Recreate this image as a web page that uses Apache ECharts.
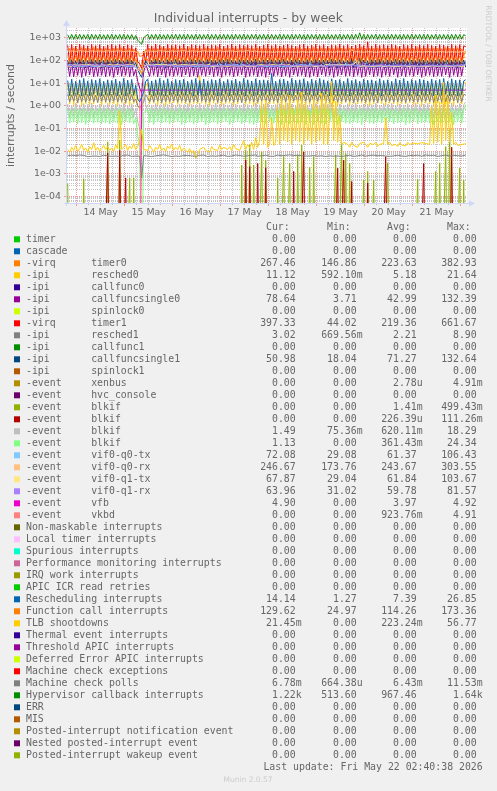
<!DOCTYPE html>
<html>
<head>
<meta charset="utf-8">
<title>Individual interrupts - by week</title>
<script src="https://cdn.jsdelivr.net/npm/echarts@6.0.0/dist/echarts.min.js"></script>
<style>
html,body{margin:0;padding:0;background:#f0f0f0;}
#chart{width:497px;height:791px;}
</style>
</head>
<body>
<div id="chart"></div>
<script>
// ---------------- data ----------------
const firstHour = -4.5; // first hourly sample, in hours after 14 May 00:00
const dayLabels = ['14 May','15 May','16 May','17 May','18 May','19 May','20 May','21 May'];
const yTickValues = [1e-4,1e-3,1e-2,1e-1,1e0,1e1,1e2,1e3];
const yTickLabels = ['1e-04','1e-03','1e-02','1e-01','1e+00','1e+01','1e+02','1e+03'];

const timer0 = [
160,340,155,360,170,320,150,370,165,350,158,330,162,380,152,345,168,335,156,360,
164,325,150,355,170,340,158,365,154,330,166,350,160,320,140,250,150,147,170,300,
162,345,156,360,168,330,152,375,160,340,166,350,155,365,170,325,158,355,164,335,
150,370,162,340,168,350,156,330,160,360,152,345,170,335,158,380,164,325,155,355,
166,340,152,365,160,330,170,350,156,375,162,345,158,335,168,360,150,340,164,355,
156,330,170,360,162,345,152,370,166,335,158,355,160,340,168,365,150,325,162,350,
168,345,155,375,162,330,150,360,170,340,158,355,164,335,152,370,166,345,160,330,
152,360,168,340,156,350,164,383,150,335,170,355,158,345,162,365,154,330,168,350,
160,355,150,340,166,370,158,325,162,360,154,345,170,335,156,375,164,340,152,355,
166,335,158,360,150,345,168,330,162,370,156,350,164,340,152,365,170,325,158,267.46];

const resched0 = [
9,1.2,10,1.1,8,1.3,11,1.05,9.5,1.25,8.5,1.15,10.5,1.2,9,1.35,7.5,1.1,10,1.3,
8.5,1.15,11,1.2,9,1.05,10,1.3,7.5,1.2,9.5,1.1,10.5,1.25,5,1,0.8,0.59,2,8,
10,1.2,8.5,1.3,11,1.1,9,1.25,10.5,1.05,8,1.2,9.5,1.35,10,1.15,7.5,1.3,11,1.2,
9,1.1,10.5,1.25,8,1.2,21.64,1.3,9.5,1.15,10,1.05,8.5,1.3,11,1.2,9,1.1,10,1.25,
8,1.3,9.5,1.1,11,1.2,8.5,1.35,10,1.15,9,1.25,10.5,1.05,7.5,1.2,9.5,1.3,10,1.1,
11,1.2,8,1.25,9.5,1.1,10.5,1.3,9,1.2,8.5,1.15,10,1.35,9.5,1.05,11,1.2,8,1.3,
9,1.15,10,1.3,8.5,1.2,11,1.1,9.5,1.25,7.5,1.2,10.5,1.3,9,1.05,10,1.2,8.5,1.35,
10.5,1.1,9,1.25,11,1.2,8,1.3,9.5,1.15,10,1.05,8.5,1.2,11,1.3,9,1.25,10,1.1,
8.5,1.3,10,1.2,9,1.1,11,1.25,7.5,1.2,9.5,1.35,10.5,1.15,8,1.2,10,1.05,9,1.3,
11,1.2,8.5,1.1,10,1.3,9,1.2,10.5,1.15,8,1.25,9.5,1.1,11,1.3,8.5,1.2,10,11.12];

const callfuncsingle0 = [
75,20,82,19,70,22,88,18,78,21,72,23,85,19,68,20,80,22,74,19,
86,21,71,18,79,23,83,20,69,22,87,19,76,21,40,12,6,3.71,30,70,
81,20,73,22,89,19,77,23,70,18,84,21,75,20,66,22,82,19,78,23,
72,19,86,21,74,18,80,22,68,20,88,23,76,19,83,21,71,18,79,22,
85,22,70,19,81,21,75,23,87,18,69,20,78,22,84,19,73,21,80,18,
77,23,83,20,71,22,89,19,74,21,80,18,86,23,68,20,79,22,75,19,
82,18,72,21,88,19,76,23,70,20,85,22,78,18,81,21,69,23,84,20,
73,21,132,19,80,22,75,18,87,20,71,23,83,19,77,21,89,18,74,22,
79,20,84,23,70,18,86,21,76,19,82,22,72,20,88,23,75,18,81,21,
71,22,78,19,85,21,73,20,80,23,69,18,87,22,77,19,83,21,74,78.64];

const timer1 = [
460,72,500,66,430,78,520,64,470,75,440,68,510,70,450,66,490,76,420,65,
480,73,510,67,450,78,500,69,430,71,490,65,460,74,360,90,70,44,260,75,
500,69,440,74,520,66,470,78,430,67,510,71,460,76,490,64,450,70,520,68,
430,75,500,67,470,78,450,65,520,71,440,76,490,66,460,73,510,69,430,78,
470,67,520,74,440,69,500,78,460,65,490,71,450,75,510,68,430,73,480,66,
520,76,450,67,500,71,440,78,470,65,510,73,460,69,430,75,490,67,520,71,
440,78,470,66,510,74,450,69,500,71,430,76,490,65,460,73,520,68,450,78,
500,67,430,74,470,71,520,66,450,78,661,69,440,73,510,65,460,75,500,71,
450,69,520,78,470,66,430,74,500,71,460,76,510,65,440,73,490,67,450,78,
510,66,460,74,430,71,500,69,470,76,440,65,520,73,450,67,490,71,440,397.33];

const resched1 = [
3.4,1.5,3.1,1.6,3.7,1.4,3.2,1.55,3.5,1.45,3.3,1.65,3.8,1.5,3,1.4,3.6,1.6,3.2,1.5,
3.5,1.45,3.3,1.6,3.7,1.5,3.1,1.55,3.4,1.4,3.6,1.65,3.2,1.5,2,1,0.8,0.67,1.5,3.2,
3.6,1.5,3.2,1.45,3.5,1.6,3.8,1.4,3.3,1.55,3.1,1.5,3.7,1.65,3.4,1.45,3.2,1.6,3.5,1.5,
3.3,1.4,3.7,1.55,3.1,1.5,8.9,1.6,3.4,1.45,3.6,1.5,3.2,1.65,3.5,1.4,3.8,1.55,3.3,1.5,
3.5,1.6,3.2,1.45,3.6,1.5,3.3,1.4,3.7,1.55,3.1,1.6,3.4,1.5,3.8,1.45,3.2,1.65,3.6,1.5,
3.1,1.5,3.5,1.6,3.3,1.4,3.7,1.55,3.2,1.5,3.6,1.45,3.4,1.65,3,1.5,3.5,1.4,3.3,1.6,
3.7,1.45,3.2,1.5,3.5,1.6,3.1,1.55,3.8,1.4,3.3,1.5,3.6,1.65,3.2,1.45,3.4,1.6,3.5,1.5,
3.2,1.55,3.6,1.4,3.3,1.5,3.7,1.6,3.1,1.45,3.5,1.55,3.8,1.5,3.2,1.4,3.6,1.65,3.3,1.5,
3.5,1.6,3.1,1.45,3.7,1.5,3.3,1.55,3.4,1.4,3.6,1.6,3.2,1.5,3.8,1.45,3.1,1.55,3.5,1.6,
3.3,1.5,3.6,1.4,3.2,1.6,3.5,1.45,3.7,1.5,3.1,1.55,3.4,1.65,3.3,1.4,3.6,1.5,3.2,3.02];

const callfuncsingle1 = [
100,50,108,47,96,53,112,49,104,46,98,52,110,48,102,54,106,45,99,51,
107,48,97,53,111,46,103,50,95,52,109,47,101,55,80,40,25,18,60,95,
105,49,99,54,113,47,102,51,96,45,108,53,100,48,111,52,97,46,106,50,
98,53,110,46,103,50,107,48,95,54,112,47,101,52,99,45,109,51,104,49,
111,47,100,52,96,49,108,54,102,46,105,50,98,53,113,48,97,51,107,45,
103,51,109,48,99,53,106,46,112,50,96,54,104,47,110,52,101,49,95,53,
108,46,97,50,111,53,102,48,105,51,99,47,113,54,100,45,107,52,96,49,
101,54,110,47,98,51,132,49,104,53,96,46,109,50,103,48,111,52,97,47,
106,50,99,53,112,45,101,52,108,48,95,51,105,54,98,47,110,49,102,53,
97,48,107,52,103,46,111,50,99,54,106,47,100,51,109,45,96,53,104,50.98];

const blkifA = [
3.8e-4,0,0,0,0,0,0,0,6.2e-4,0,0,0,0,0,0,0,0,0,0,0,
0.026,0,0,0,0,0,0.031,0,0,0,0,6.6e-4,0,6.6e-4,0,0,0,0,0,0,
0,0,0,0,0,0,0,0,0,0,0,0,0,0,0,0,0,0,0,0,
0,0,0,0,0,0,0,0,0,0,0,0,0,0,0,0,0,0,0,0,
0,0,0,0,0,0,0,2.5e-3,0,0.011,0,0.019,0,2.5e-3,0,0,0,9.4e-3,0,4.1e-3,
0,0,0,0,0,6.6e-4,0,0,5.8e-3,0,0,3e-3,0,0,0,7e-3,0,0.019,0,0,
0,2e-3,0,5.8e-3,0,0,0,0,0,0,0,0,0,0,6.9e-3,0,0,0.023,0,8e-3,
0,3e-3,0,0,0,0,0,0,5.4e-4,0,1.3e-3,0,0,5.4e-4,0,0,0,0,0,0,
3.1e-3,0,0,0,0,0,0,0,0,0,0,0,0,0,0,5.9e-4,0,0,0,0,
0,0,0,0,1.3e-3,0,3.1e-3,0,0,0.016,0,0.09,0,0,0,0,1.8e-3,0,5.4e-4,0];

const blkifB = [
0,0,0,0,0,0,0,0,0,0,0,0,0,0,0,0,0,0,0,0,
8.4e-3,0,0,0,0,0,0.011,0,0,6.6e-4,0,0,0,0,0,0,0,0,0,0,
0,0,0,0,0,0,0,0,0,0,0,0,0,0,0,0,0,0,0,0,
0,0,0,0,0,0,0,0,0,0,0,0,0,0,0,0,0,0,0,0,
0,0,0,0,0,0,0,0,0,4.1e-3,0,2.1e-3,0,0,0,2.9e-3,0,0,0,1.9e-3,
0,0,0,0,0,0,0,0,0,0,0,0,0,1.3e-3,0,0,0,0,9.4e-3,0,
0,0,0,0,0,0,0,0,0,0,0,0,0,0,0,1.8e-3,0,0,4.1e-3,0,
0,0,4.7e-4,0,0,0,0,0,0,0,4e-4,0,0,0,0,0,0,0,0,5.8e-3,
0,0,0,0,0,0,0,0,0,0,0,0,0,0,0,0,0,0,2.9e-3,0,
0,0,0,0,0,0,0,0,0,0,0,0,0.015,0,0,0,0,0,0,0];

const blkifC = [
1.2,.32,1.05,.35,1.3,.3,1.1,.36,1.25,.29,1.15,.34,1.35,.31,1.0,.37,1.2,.33,1.1,.3,
1.3,.35,1.05,.31,1.2,.36,1.15,.29,1.35,.33,1.0,.37,1.25,.32,.8,.2,.1,.075,18.29,1.1,
1.2,.34,1.1,.3,1.3,.36,1.05,.32,1.25,.35,1.15,.29,1.35,.33,1.0,.37,1.2,.31,1.1,.34,
1.25,.3,1.15,.36,1.0,.33,1.3,.29,1.1,.35,1.2,.32,1.05,.37,1.35,.31,1.15,.34,1.25,.3,
1.1,.36,1.3,.32,1.2,.29,1.05,.35,1.25,.33,1.15,.37,1.0,.31,1.35,.34,1.1,.3,1.2,.36,
1.3,.33,1.05,.35,1.15,.31,1.25,.36,1.1,.29,1.35,.34,1.2,.32,1.0,.37,1.25,.3,1.15,.35,
1.05,.31,1.2,.34,1.3,.37,1.1,.33,1.25,.3,1.15,.36,1.35,.32,1.0,.35,1.2,.29,1.1,.33,
1.25,.36,1.1,.3,1.35,.33,1.0,.37,1.2,.31,1.2,.35,1.15,.32,1.3,.29,1.05,.34,1.25,.36,
1.15,.32,1.3,.35,1.05,.31,1.2,.36,1.1,.29,1.25,.33,1.0,.37,1.35,.3,1.15,.34,1.2,.32,
1.3,.34,1.1,.31,1.25,.36,1.05,.33,1.2,.3,1.15,.35,1.35,.32,1.0,.37,1.25,.31,1.1,1.49];

const blkifD = [
.7,.17,.62,.19,.78,.16,.66,.18,.74,.15,.6,.2,.72,.17,.68,.19,.8,.16,.64,.18,
.75,.16,.63,.19,.7,.17,.77,.15,.61,.2,.73,.18,.67,.16,.3,.05,.02,0,.5,.6,
.68,.18,.76,.15,.63,.2,.71,.17,.79,.19,.65,.16,.73,.18,.6,.2,.77,.15,.69,.17,
.62,.19,.74,.16,.8,.18,.66,.2,.7,.15,.78,.17,.61,.19,.75,.16,.67,.18,.72,.2,
.79,.15,.64,.18,.71,.2,.76,.16,.62,.19,.7,.17,.8,.15,.65,.18,.73,.2,.68,.16,
.66,.2,.77,.17,.6,.19,.74,.15,.69,.18,.63,.16,.75,.2,.71,.17,.78,.19,.64,.15,
.73,.18,.67,.15,.79,.2,.62,.17,.76,.16,.7,.19,.64,.18,.8,.15,.68,.2,.74,.17,
.61,.16,.72,.19,.65,.18,.78,.15,.7,.2,.63,.17,.76,.16,.69,.19,.74,.18,.66,.15,
.77,.2,.64,.16,.73,.18,.6,.19,.79,.15,.67,.17,.71,.2,.75,.16,.62,.18,.7,.19,
.68,.17,.8,.15,.66,.2,.72,.18,.63,.16,.77,.19,.7,.15,.65,.2,.74,.17,.69,1.13];

const vifQ0tx = [
62,55,66,52,60,58,68,54,63,57,59,61,65,53,61,56,67,55,60,58,
64,54,61,57,66,53,59,60,63,55,67,52,62,56,50,40,33,29,48,58,
65,56,60,54,68,57,62,53,66,59,61,55,64,52,60,58,67,54,63,57,
59,61,66,53,62,56,68,55,60,58,65,52,63,57,61,54,67,56,59,60,
64,53,61,58,66,55,60,57,68,52,62,59,65,54,63,56,59,61,67,53,
61,57,65,54,60,59,66,52,63,56,68,55,62,58,59,53,66,57,64,54,
60,58,67,53,62,56,65,59,61,54,68,57,63,52,66,55,60,59,64,56,
66,54,61,57,106,53,63,59,60,55,67,52,62,58,65,54,61,57,68,53,
59,60,64,55,67,53,61,58,66,56,60,54,63,59,68,52,62,57,65,55,
63,56,60,59,66,54,62,57,68,53,61,58,65,55,59,60,67,54,63,72.08];

const vifQ0rx = [
255,238,262,232,250,241,268,229,258,236,247,243,265,231,253,239,260,227,249,244,
263,235,251,240,257,230,266,237,246,242,259,233,252,228,240,210,190,174,225,248,
261,236,254,242,248,230,267,238,256,233,245,240,263,229,251,244,258,235,270,232,
249,241,262,228,255,237,247,243,264,231,253,239,259,226,250,245,266,234,248,240,
257,233,263,238,246,242,260,230,254,236,268,229,251,244,258,237,249,241,265,232,
252,239,259,227,266,243,248,235,261,240,255,231,247,238,263,229,256,242,250,236,
264,230,253,241,258,237,246,244,267,232,251,239,260,228,254,243,249,236,262,240,
255,234,303,239,250,242,263,230,257,237,248,241,265,233,252,227,259,244,246,238,
261,235,249,240,256,231,268,237,253,243,247,229,262,236,258,241,251,232,264,239,
250,244,259,230,255,238,247,242,266,233,252,236,260,240,248,231,257,243,254,246.67];

const vifQ1tx = [
58,63,54,67,57,61,53,66,59,62,55,68,56,60,58,64,52,65,57,61,
55,66,58,62,53,67,56,60,59,64,54,68,57,61,48,38,32,29,45,62,
56,65,59,61,53,68,57,63,55,66,58,60,54,67,56,62,59,64,53,66,
58,61,55,67,57,63,54,65,59,60,56,68,53,62,58,66,55,61,57,64,
54,66,58,62,56,68,53,61,59,64,55,60,57,67,54,63,58,65,56,61,
59,63,55,66,57,60,54,68,58,62,56,65,53,61,59,67,55,63,57,60,
56,67,58,61,54,64,59,62,55,68,57,60,53,66,58,63,56,65,54,61,
57,62,55,66,59,104,53,63,58,67,56,61,54,65,57,60,59,68,55,62,
58,64,54,60,57,67,55,62,59,65,53,61,58,68,56,63,54,66,57,60,
55,65,58,62,56,68,54,61,59,63,57,66,53,60,58,64,56,67,55,67.87];

const vifQ1rx = [
60,57,63,55,61,58,64,56,59,62,57,60,65,55,61,58,62,56,64,59,
58,61,55,63,60,57,62,59,64,56,61,58,60,55,50,42,35,31,50,60,
62,57,60,64,56,61,58,63,55,60,62,57,65,59,56,61,58,64,57,60,
59,63,56,60,62,58,64,55,61,59,57,62,60,56,63,58,55,61,59,64,
61,56,63,59,57,62,55,60,64,58,61,56,59,63,57,60,62,55,58,61,
57,62,59,56,63,60,58,64,55,61,60,57,62,59,56,63,58,60,61,57,
63,58,60,62,56,59,64,57,61,55,62,60,58,63,57,61,59,56,64,60,
58,61,57,63,60,56,62,59,81,58,61,57,63,60,55,62,59,64,57,61,
60,57,63,59,56,62,58,61,64,56,60,63,57,59,62,55,61,58,63,60,
59,62,56,60,63,57,61,58,55,64,60,59,62,56,58,61,57,63,60,63.96];

const vfb = [
0,0,0,0,0,0,0,0,0,0,0,0,0,0,0,0,0,0,0,0,
0,0,0,0,0,0,0,0,0,0,0,0,0,0,0,0,0,4.9,4.92,4.9,
4.9,4.9,4.9,4.9,4.9,4.9,4.9,4.9,4.9,4.9,4.9,4.9,4.9,4.9,4.9,4.9,4.9,4.9,4.9,4.9,
4.9,4.9,4.9,4.9,4.9,4.9,4.9,4.9,4.9,4.9,4.9,4.9,4.9,4.9,4.9,4.9,4.9,4.9,4.9,4.9,
4.9,4.9,4.9,4.9,4.9,4.9,4.9,4.9,4.9,4.9,4.9,4.9,4.9,4.9,4.9,4.9,4.9,4.9,4.9,4.9,
4.9,4.9,4.9,4.9,4.9,4.9,4.9,4.9,4.9,4.9,4.9,4.9,4.9,4.9,4.9,4.9,4.9,4.9,4.9,4.9,
4.9,4.9,4.9,4.9,4.9,4.9,4.9,4.9,4.9,4.9,4.9,4.9,4.9,4.9,4.9,4.9,4.9,4.9,4.9,4.9,
4.9,4.9,4.9,4.9,4.9,4.9,4.9,4.9,4.9,4.9,4.9,4.9,4.9,4.9,4.9,4.9,4.9,4.9,4.9,4.9,
4.9,4.9,4.9,4.9,4.9,4.9,4.9,4.9,4.9,4.9,4.9,4.9,4.9,4.9,4.9,4.9,4.9,4.9,4.9,4.9,
4.9,4.9,4.9,4.9,4.9,4.9,4.9,4.9,4.9,4.9,4.9,4.9,4.9,4.9,4.9,4.9,4.9,4.9,4.9,4.9];

const vkbd = [
4.91,4.91,4.91,4.91,4.91,4.91,4.91,4.91,4.91,4.91,4.91,4.91,4.91,4.91,4.91,4.91,4.91,4.91,4.91,4.91,
4.91,4.91,4.91,4.91,4.91,4.91,4.91,4.91,4.91,4.91,4.91,4.91,4.91,4.91,4.91,4.91,4.91,0,0,0,
0,0,0,0,0,0,0,0,0,0,0,0,0,0,0,0,0,0,0,0,
0,0,0,0,0,0,0,0,0,0,0,0,0,0,0,0,0,0,0,0,
0,0,0,0,0,0,0,0,0,0,0,0,0,0,0,0,0,0,0,0,
0,0,0,0,0,0,0,0,0,0,0,0,0,0,0,0,0,0,0,0,
0,0,0,0,0,0,0,0,0,0,0,0,0,0,0,0,0,0,0,0,
0,0,0,0,0,0,0,0,0,0,0,0,0,0,0,0,0,0,0,0,
0,0,0,0,0,0,0,0,0,0,0,0,0,0,0,0,0,0,0,0,
0,0,0,0,0,0,0,0,0,0,0,0,0,0,0,0,0,0,0,0];

const rescheduling = [
13,2.8,15,2.9,12,3.1,14,2.7,16,3,12.5,2.8,14.5,3.2,13.5,2.9,15.5,2.7,12,3,
14,2.9,13,3.1,15,2.8,12,3,16,2.7,13.5,3.2,14.5,2.9,8,2,1.5,1.27,4,12,
15,3,12.5,2.8,14,3.1,16,2.9,13,2.7,15.5,3,12,3.2,14.5,2.8,13.5,3.1,15,2.9,
12,3.2,14,2.7,16,3,13,2.9,15,2.8,12.5,3.1,14.5,3,13.5,2.7,15.5,2.9,12,3.2,
14.5,2.8,13,3,15,2.9,12,3.1,16,2.7,14,3.2,12.5,2.8,15.5,3,13.5,2.9,14,3.1,
13,2.9,26.85,3.1,12,2.8,14.5,3,15,3.2,12.5,2.7,16,2.9,13.5,3.1,14,2.8,15.5,3,
12,3.1,15,2.8,13,3,16,2.9,14,3.2,12.5,2.7,15.5,3,13.5,2.8,14.5,3.1,12,2.9,
16,2.7,13,3.1,14.5,2.9,12,3,15,2.8,13.5,3.2,14,2.9,12.5,3,15.5,2.7,13,3.1,
14,3,12,2.8,15.5,3.1,13.5,2.9,16,3,12.5,2.8,14.5,3.2,13,2.7,15,3,14,2.9,
12.5,3.1,15,2.8,13,3,14.5,2.9,16,3.2,12,2.8,15.5,3,13.5,2.7,14,3.1,12.5,14.14];

const functionCall = [
150,82,145,86,158,79,148,84,152,80,160,88,146,83,155,81,149,87,157,79,
151,84,147,80,159,86,150,82,154,85,148,81,156,83,120,60,40,25,90,140,
152,82,158,87,146,81,155,84,149,80,161,86,150,83,157,79,148,88,153,81,
160,85,147,82,154,80,150,87,158,83,145,84,156,81,151,86,149,79,159,84,
148,81,155,88,151,82,162,80,146,85,157,83,150,87,153,79,160,84,147,82,
156,86,149,80,158,84,152,81,145,87,155,83,161,82,148,85,154,79,150,88,
153,83,160,81,147,86,156,84,150,80,158,87,146,82,155,85,149,81,162,84,
145,87,157,82,151,80,159,85,148,84,173,81,150,88,146,83,156,79,152,86,
158,80,149,85,155,82,147,87,160,83,152,81,157,84,145,86,154,80,150,83,
161,84,148,81,156,87,151,82,146,85,159,80,153,83,149,86,155,81,147,129.62];

const tlbShootdowns = [
.012,.009,.015,.011,.018,.010,.013,.02,.011,.014,.009,.016,.012,.024,.011,.015,.01,.013,.018,.012,
.016,.011,.014,.01,.019,.013,.6,.012,.015,.02,.011,.017,.013,.022,.012,.016,.03,.09,.012,.014,
.011,.018,.013,.009,.015,.012,.02,.011,.014,.01,.017,.013,.021,.011,.015,.012,.018,.01,.014,.012,
.009,.013,.008,.011,.005,.007,.012,.01,.015,.011,.013,.009,.016,.012,.014,.011,.019,.012,.015,.013,
.012,.016,.011,.02,.013,.015,.011,.018,.03,.012,.02,.014,.025,.012,.04,.015,.03,1.4,.02,1.8,
.015,.02,.3,.018,.025,.9,.02,2.5,.03,1.2,.025,3,.02,.8,.03,2,.025,4,.02,1.5,
.03,.6,.02,2.2,.025,1,.03,3.5,.02,2.8,.02,.5,12,.03,1.6,.025,.4,.02,.025,.03,
.02,.015,.025,.018,.02,.015,.022,.018,.025,.02,.015,.022,.018,.02,.025,.016,.02,.018,.022,.3,
.02,.025,.018,.022,.02,.016,.024,.019,.021,.017,.025,.02,.018,.023,.019,.021,.018,.024,.02,.022,
.025,.02,.9,.022,3,.025,1.5,.02,11,.03,2.2,.025,.5,.02,.025,.018,.022,.02,.024,.02145];

const machineCheckPolls = [
.0064,.0061,.0067,.0059,.0065,.0062,.0068,.006,.0066,.0063,.0058,.0065,.0061,.0069,.0062,.0066,.0059,.0064,.0067,.0061,
.0063,.0068,.006,.0065,.0062,.0067,.0059,.0064,.0066,.0061,.0068,.0063,.006,.0066,.0062,.0058,.0061,.00066,.0064,.0067,
.0062,.0065,.0059,.0068,.0063,.006,.0066,.0062,.0069,.0061,.0064,.0067,.0059,.0065,.0062,.0068,.006,.0063,.0066,.0061,
.0065,.0058,.0063,.0067,.006,.0064,.0066,.0061,.0068,.0062,.0059,.0065,.0063,.0069,.0061,.0066,.0064,.006,.0067,.0062,
.006,.0066,.0062,.0064,.0068,.0059,.0065,.0063,.0061,.0067,.0064,.006,.0066,.0062,.0068,.0061,.0065,.0063,.0059,.0067,
.0063,.0061,.0067,.006,.0065,.0068,.0062,.0064,.0059,.0066,.0063,.0069,.0061,.0065,.0062,.0067,.006,.0064,.0066,.0062,
.0066,.0062,.006,.0065,.0063,.0061,.0068,.0064,.0062,.0059,.0066,.0063,.0067,.0061,.0064,.0062,.0069,.006,.0065,.0063,
.0061,.0067,.0064,.006,.0066,.0063,.0062,.0068,.0065,.0061,.0059,.0066,.0063,.0067,.0062,.0064,.006,.0065,.0068,.0062,
.0064,.006,.0066,.0063,.0061,.0067,.0065,.0062,.0068,.006,.0063,.0066,.0059,.0064,.0062,.0067,.0065,.0061,.0063,.0068,
.0062,.0065,.0061,.0067,.0063,.006,.0066,.0064,.0062,.0068,.0065,.0061,.0063,.0066,.0059,.0064,.0067,.0062,.0065,.00678];

const hypervisorCallback = [
1350,860,1400,840,1380,870,1420,850,1360,880,1390,830,1410,860,1370,850,1400,870,1350,840,
1380,860,1410,850,1360,870,1390,840,1400,860,1370,850,1380,830,1250,780,650,514,1000,860,
1400,850,1380,860,1410,840,1390,870,1360,850,1400,860,1370,880,1420,840,1390,860,1380,850,
1410,870,1360,840,1400,860,1390,850,1370,880,1420,850,1380,860,1400,840,1360,870,1410,850,
1390,860,1370,850,1400,870,1380,840,1420,860,1360,850,1390,880,1400,850,1370,860,1410,840,
1380,870,1400,850,1360,860,1420,840,1390,870,1370,850,1400,860,1380,880,1410,850,1360,840,
1400,860,1390,870,1370,850,1410,840,1380,860,1400,870,1360,850,1390,860,1420,840,1370,880,
1400,850,1380,860,1410,870,1640,840,1390,850,1400,860,1370,880,1420,850,1380,860,1400,840,
1370,870,1410,850,1390,860,1360,840,1400,870,1380,850,1420,860,1370,880,1400,850,1390,860,
1410,840,1360,870,1400,850,1380,860,1390,870,1370,850,1410,840,1400,860,1380,870,1360,1220];

// legend table
const legendLabels = [
['timer'],['cascade'],['-virq','timer0'],['-ipi','resched0'],['-ipi','callfunc0'],
['-ipi','callfuncsingle0'],['-ipi','spinlock0'],['-virq','timer1'],['-ipi','resched1'],['-ipi','callfunc1'],
['-ipi','callfuncsingle1'],['-ipi','spinlock1'],['-event','xenbus'],['-event','hvc_console'],['-event','blkif'],
['-event','blkif'],['-event','blkif'],['-event','blkif'],['-event','vif0-q0-tx'],['-event','vif0-q0-rx'],
['-event','vif0-q1-tx'],['-event','vif0-q1-rx'],['-event','vfb'],['-event','vkbd'],['Non-maskable interrupts'],
['Local timer interrupts'],['Spurious interrupts'],['Performance monitoring interrupts'],['IRQ work interrupts'],['APIC ICR read retries'],
['Rescheduling interrupts'],['Function call interrupts'],['TLB shootdowns'],['Thermal event interrupts'],['Threshold APIC interrupts'],
['Deferred Error APIC interrupts'],['Machine check exceptions'],['Machine check polls'],['Hypervisor callback interrupts'],['ERR'],
['MIS'],['Posted-interrupt notification event'],['Nested posted-interrupt event'],['Posted-interrupt wakeup event']];
const statCur = ['0.00','0.00','267.46','11.12','0.00','78.64','0.00','397.33','3.02','0.00',
'50.98','0.00','0.00','0.00','0.00','0.00','1.49','1.13','72.08','246.67',
'67.87','63.96','4.90','0.00','0.00','0.00','0.00','0.00','0.00','0.00',
'14.14','129.62','21.45m','0.00','0.00','0.00','0.00','6.78m','1.22k','0.00',
'0.00','0.00','0.00','0.00'];
const statMin = ['0.00','0.00','146.86','592.10m','0.00','3.71','0.00','44.02','669.56m','0.00',
'18.04','0.00','0.00','0.00','0.00','0.00','75.36m','0.00','29.08','173.76',
'29.04','31.02','0.00','0.00','0.00','0.00','0.00','0.00','0.00','0.00',
'1.27','24.97','0.00','0.00','0.00','0.00','0.00','664.38u','513.60','0.00',
'0.00','0.00','0.00','0.00'];
const statAvg = ['0.00','0.00','223.63','5.18','0.00','42.99','0.00','219.36','2.21','0.00',
'71.27','0.00','2.78u','0.00','1.41m','226.39u','620.11m','361.43m','61.37','243.67',
'61.84','59.78','3.97','923.76m','0.00','0.00','0.00','0.00','0.00','0.00',
'7.39','114.26','223.24m','0.00','0.00','0.00','0.00','6.43m','967.46','0.00',
'0.00','0.00','0.00','0.00'];
const statMax = ['0.00','0.00','382.93','21.64','0.00','132.39','0.00','661.67','8.90','0.00',
'132.64','0.00','4.91m','0.00','499.43m','111.26m','18.29','24.34','106.43','303.55',
'103.67','81.57','4.92','4.91','0.00','0.00','0.00','0.00','0.00','0.00',
'26.85','173.36','56.77','0.00','0.00','0.00','0.00','11.53m','1.64k','0.00',
'0.00','0.00','0.00','0.00'];
const statHeaders = ['Cur:','Min:','Avg:','Max:'];
const titleText = 'Individual interrupts - by week';
const yAxisTitle = 'interrupts / second';
const lastUpdate = 'Last update: Fri May 22 02:40:38 2026';
const footerText = 'Munin 2.0.57';
const watermark = 'RRDTOOL / TOBI OETIKER';

// series drawn on the plot, keyed by legend row (drawing order = legend order)
const plotted = [
  [2, timer0], [3, resched0], [5, callfuncsingle0], [7, timer1], [8, resched1],
  [10, callfuncsingle1], [14, blkifA], [15, blkifB], [16, blkifC], [17, blkifD],
  [18, vifQ0tx], [19, vifQ0rx], [20, vifQ1tx], [21, vifQ1rx], [22, vfb], [23, vkbd],
  [30, rescheduling], [31, functionCall], [32, tlbShootdowns], [37, machineCheckPolls],
  [38, hypervisorCallback]
];

// ---------------- style ----------------
const palette = ['#00CC00','#0066B3','#FF8000','#FFCC00','#330099','#990099','#CCFF00','#FF0000','#808080',
'#008F00','#00487D','#B35A00','#B38F00','#6B006B','#8FB300','#B30000','#BEBEBE','#80FF80','#80C9FF',
'#FFC080','#FFE680','#AA80FF','#EE00CC','#FF8080','#666600','#FFBFFF','#00FFCC','#CC6699','#999900'];
const xMin = -4.85, xMax = 195.15, yMin = 5.28e-5, yMax = 2673;
const SANS = '"DejaVu Sans", sans-serif';
const MONO = '"DejaVu Sans Mono", monospace';
const FONT_COLOR = '#666666';
const AXIS_COLOR = '#CFD6F8';
const MGRID = '#f09a9a';
const GRID = '#c4c4c4';

const chart = echarts.init(document.getElementById('chart'), null, {renderer: 'canvas', width: 497, height: 791});
chart.setOption({
  backgroundColor: '#f0f0f0',
  animation: false,
  grid: {left: 67, top: 28, width: 400, height: 175, show: true, backgroundColor: '#ffffff', borderWidth: 0},
  xAxis: {type: 'value', min: xMin, max: xMax, show: false},
  yAxis: {type: 'log', logBase: 10, min: yMin, max: yMax, show: false},
  series: plotted.map(([k, arr]) => ({
    type: 'line',
    name: legendLabels[k].join(' '),
    data: arr.map((v, i) => [firstHour + i, v > 0 ? v : 1e-9]),
    symbol: 'none', showSymbol: false, silent: true, clip: true, animation: false, z: 2,
    lineStyle: {width: 1, color: palette[k % 29]},
    itemStyle: {color: palette[k % 29]}
  }))
});

const P = (x, y) => chart.convertToPixel({gridIndex: 0}, [x, y]);
const L = P(xMin, 1)[0], R = P(xMax, 1)[0];
const T = P(0, yMax)[1], B = P(0, yMin)[1];
const snap = v => Math.floor(v) + 0.5;
const els = [];
function txt(x, y, s, font, fill, align, extra) {
  return Object.assign({type: 'text', silent: true, z: 20, x: x, y: y,
    style: {x: 0, y: 0, text: s, font: font, fill: fill, align: align || 'left', textAlign: align || 'left',
      verticalAlign: 'middle', textVerticalAlign: 'middle'}}, extra || {});
}
function seg(x1, y1, x2, y2, color, dash, z) {
  return {type: 'line', silent: true, z: z, shape: {x1: x1, y1: y1, x2: x2, y2: y2},
    style: {stroke: color, lineWidth: 1, lineDash: dash || null}};
}

// horizontal grid (log minor, then decades)
for (let e = -5; e <= 3; e++) {
  for (let k = 2; k <= 9; k++) {
    const v = Number(k + 'e' + e);
    if (v <= yMin || v >= yMax) continue;
    const y = snap(P(0, v)[1]);
    els.push(seg(L, y, R, y, GRID, [1, 1], 1));
  }
}
yTickValues.forEach((v, i) => {
  const y = snap(P(0, v)[1]);
  els.push(seg(L, y, R, y, MGRID, [1, 1], 1));
  els.push(seg(L - 3, y, L, y, MGRID, null, 1));
  els.push(txt(61, y, yTickLabels[i], '9.4px ' + SANS, FONT_COLOR, 'right'));
});
// vertical grid: every 6 h, day boundaries stronger
for (let h = 0; h <= xMax; h += 6) {
  if (h < xMin) continue;
  const x = snap(P(h, 1)[0]);
  const major = h % 24 === 0;
  els.push(seg(x, T, x, B, major ? MGRID : GRID, [1, 1], 1));
  els.push(seg(x, B, x, B + (major ? 3 : 2), major ? MGRID : GRID, null, 1));
}
dayLabels.forEach((d, i) => {
  const x = P(12 + 24 * i, 1)[0];
  els.push(txt(x, 212.5, d, '9.4px ' + SANS, FONT_COLOR, 'center'));
});
// axes with arrows
els.push(seg(L - 3, snap(B), R + 3, snap(B), AXIS_COLOR, null, 15));
els.push({type: 'polygon', silent: true, z: 15, shape: {points: [[R + 2, B - 2.5], [R + 8, B + 0.5], [R + 2, B + 3.5]]}, style: {fill: AXIS_COLOR}});
els.push(seg(snap(L - 1), B + 3, snap(L - 1), T - 3, AXIS_COLOR, null, 15));
els.push({type: 'polygon', silent: true, z: 15, shape: {points: [[L - 4, T - 2], [L - 0.5, T - 8], [L + 3, T - 2]]}, style: {fill: AXIS_COLOR}});

// titles
els.push(txt(248.3, 19, titleText, '12.4px ' + SANS, FONT_COLOR, 'center'));
els.push(txt(11, (T + B) / 2, yAxisTitle, '10.9px ' + SANS, FONT_COLOR, 'center', {rotation: Math.PI / 2}));
els.push(txt(487.5, 53.5, watermark, '7.5px ' + SANS, '#cccccc', 'center', {rotation: -Math.PI / 2}));

// legend table
const rowY0 = 239.3, rowH = 12.0;
const colRight = [295.7, 356.7, 416.7, 476.7];
const MONOF = '9.85px ' + MONO;
statHeaders.forEach((h, c) => els.push(txt(colRight[c] - 6, rowY0 - rowH, h, MONOF, FONT_COLOR, 'right')));
function valueText(s, c, y) {
  const m = s.match(/^([\d.]+)([a-zA-Z]?)$/);
  els.push(txt(colRight[c], y, m[1], MONOF, FONT_COLOR, 'right'));
  if (m[2]) els.push(txt(colRight[c], y, m[2], MONOF, FONT_COLOR, 'left'));
}
legendLabels.forEach((lab, k) => {
  const y = rowY0 + rowH * k;
  els.push({type: 'rect', silent: true, z: 20, shape: {x: 14, y: y - 3, width: 6, height: 6}, style: {fill: palette[k % 29]}});
  const s = lab.length > 1 ? lab[0].padEnd(11, ' ') + lab[1] : lab[0];
  els.push(txt(26, y, s, MONOF, FONT_COLOR, 'left'));
  valueText(statCur[k], 0, y);
  valueText(statMin[k], 1, y);
  valueText(statAvg[k], 2, y);
  valueText(statMax[k], 3, y);
});
els.push(txt(482.7, rowY0 + rowH * legendLabels.length, lastUpdate, MONOF, FONT_COLOR, 'right'));
els.push(txt(248, 780, footerText, '7.5px ' + SANS, '#cccccc', 'center'));

chart.setOption({graphic: {elements: els}});
</script>
</body>
</html>
